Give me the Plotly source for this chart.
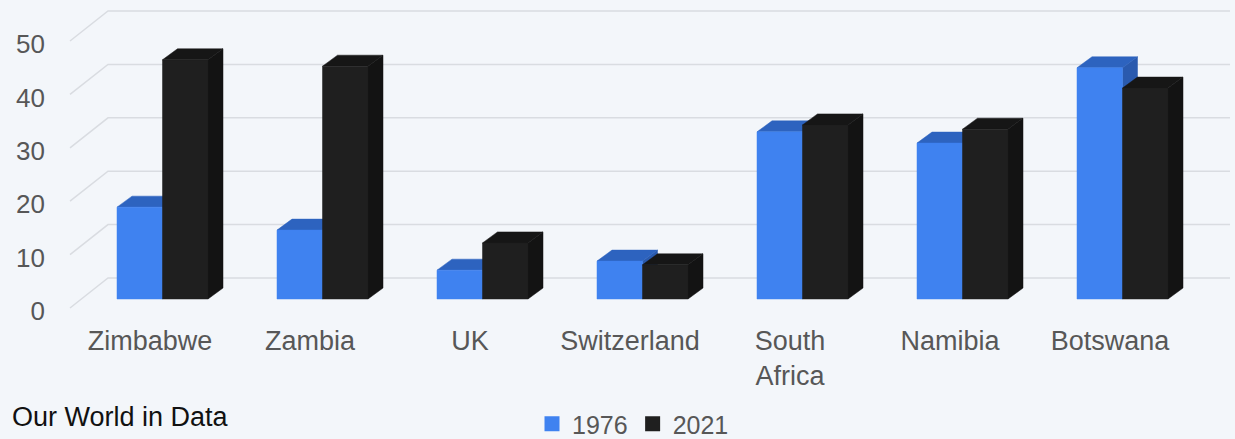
import plotly.graph_objects as go

# ---- data ----
categories = ["Zimbabwe", "Zambia", "UK", "Switzerland", "South Africa", "Namibia", "Botswana"]
tick_labels = ["Zimbabwe", "Zambia", "UK", "Switzerland", "South<br>Africa", "Namibia", "Botswana"]
series_names = ["1976", "2021"]
values_1976 = [17.2, 12.9, 5.4, 7.1, 31.3, 29.2, 43.3]
values_2021 = [44.8, 43.6, 10.5, 6.4, 32.6, 31.8, 39.5]
y_ticks = [0, 10, 20, 30, 40, 50]

# ---- style / geometry ----
W, H = 1235, 439
ML, MR, MT, MB = 52, 0, 0, 121
PX_PER_CAT = 160.0
PX_PER_VAL = 5.34
CAT0_PX = 150.0
BASE_PX = 299.0

plot_w = W - ML - MR
plot_h = H - MT - MB
x_range = [(ML - CAT0_PX) / PX_PER_CAT, (W - MR - CAT0_PX) / PX_PER_CAT]
y_range = [(BASE_PX - (H - MB)) / PX_PER_VAL, (BASE_PX - MT) / PX_PER_VAL]

# depth of bars (oblique projection)
dx = 15 / PX_PER_CAT
dy = 11 / PX_PER_VAL
# front plane / back wall offsets (value units)
front_off = -9 / PX_PER_VAL
back_off = 21 / PX_PER_VAL
front_left = -0.5
back_left = -0.2625
back_right = 6.75

bar_w = 45.5 / PX_PER_CAT
offsets = [-33 / PX_PER_CAT, -33 / PX_PER_CAT + bar_w]

colors = {
    "1976": {"front": "#3F82F0", "top": "#2D63BF", "side": "#2A5AAE"},
    "2021": {"front": "#1F1F1F", "top": "#161616", "side": "#131313"},
}
bg = "#F3F6FA"
grid_color = "#D9DCE1"
text_grey = "#575757"
font_family = "Liberation Sans, Arial, Helvetica, sans-serif"

fig = go.Figure()

# back wall gridlines with diagonals to front plane
gx, gy = [], []
for v in y_ticks:
    gx += [front_left, back_left, back_right, None]
    gy += [v + front_off, v + back_off, v + back_off, None]
fig.add_trace(go.Scatter(x=gx, y=gy, mode="lines", line=dict(color=grid_color, width=1.5),
                         hoverinfo="skip", showlegend=False))


def add_poly(xs, ys, color):
    fig.add_trace(go.Scatter(x=xs + [xs[0]], y=ys + [ys[0]], mode="lines", fill="toself",
                             fillcolor=color, line=dict(color=color, width=0.5),
                             hoverinfo="skip", showlegend=False))


series = [values_1976, values_2021]
for i, cat in enumerate(categories):
    for s, name in enumerate(series_names):
        h = series[s][i]
        L = i + offsets[s]
        R = L + bar_w
        c = colors[name]
        # side face
        add_poly([R, R + dx, R + dx, R], [0, dy, h + dy, h], c["side"])
        # top face
        add_poly([L, R, R + dx, L + dx], [h, h, h + dy, h + dy], c["top"])
        # front face
        add_poly([L, R, R, L], [0, 0, h, h], c["front"])

# legend entries
for name in series_names:
    fig.add_trace(go.Scatter(x=[None], y=[None], mode="markers", name=name,
                             marker=dict(symbol="square", size=15, color=colors[name]["front"])))

fig.add_annotation(text="Our World in Data", xref="paper", yref="paper",
                   x=(10 - ML) / plot_w, y=(H - MB - 417) / plot_h,
                   xanchor="left", yanchor="middle", showarrow=False,
                   font=dict(family=font_family, size=27, color="#111111"))

fig.update_layout(
    width=W, height=H,
    margin=dict(l=ML, r=MR, t=MT, b=MB, autoexpand=False),
    paper_bgcolor=bg, plot_bgcolor=bg,
    font=dict(family=font_family, size=25, color=text_grey),
    showlegend=True,
    legend=dict(orientation="h", x=(532 - ML) / plot_w, y=(H - MB - 424) / plot_h,
                xanchor="left", yanchor="middle", bgcolor="rgba(0,0,0,0)",
                font=dict(size=25, color=text_grey), itemclick=False),
    xaxis=dict(range=x_range, tickmode="array", tickvals=list(range(len(categories))),
               ticktext=tick_labels, showgrid=False, zeroline=False, showline=False,
               ticks="", tickfont=dict(size=27, color=text_grey), ticklabelstandoff=4,
               automargin=False, fixedrange=True),
    yaxis=dict(range=y_range, tickmode="array", tickvals=[v + front_off for v in y_ticks],
               ticktext=[str(v) for v in y_ticks], showgrid=False, zeroline=False,
               showline=False, ticks="", tickfont=dict(size=26, color=text_grey),
               ticklabelstandoff=6, ticklabelshift=3, automargin=False, fixedrange=True),
)

fig.write_html("out.html", config={"displayModeBar": False},
               post_script="document.body.style.margin='0';document.body.style.padding='0';document.body.style.background='" + bg + "';")
